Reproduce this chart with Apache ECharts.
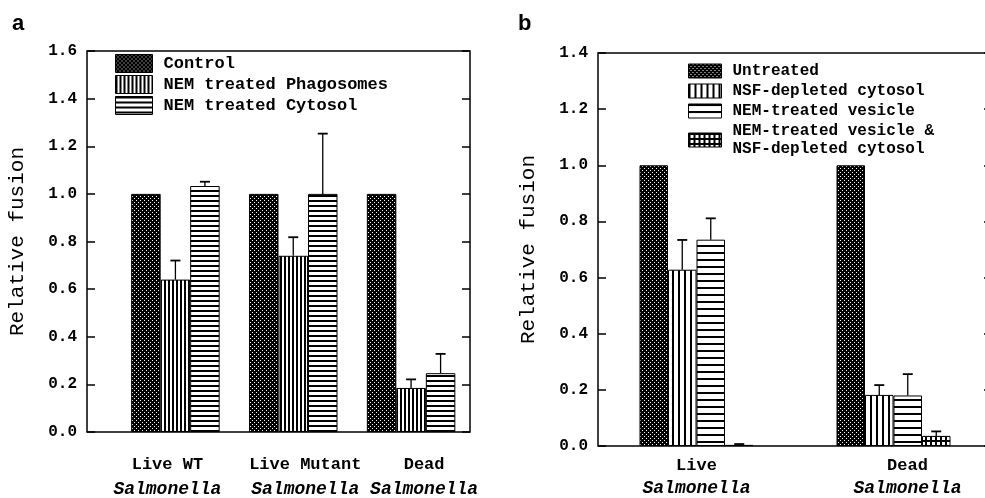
<!DOCTYPE html>
<html>
<head>
<meta charset="utf-8">
<script src="https://cdn.jsdelivr.net/npm/echarts@6/dist/echarts.min.js"></script>
<style>
  html, body { margin: 0; padding: 0; background: #fff; }
  #chart { width: 985px; height: 498px; }
</style>
</head>
<body>
<div id="chart"></div>
<script>
// panel a
const catsA = ["Live WT", "Live Mutant", "Dead"];
const namesA = ["Control", "NEM treated Phagosomes", "NEM treated Cytosol"];
const controlA = [1.0, 1.0, 1.0];
const phagoA = [0.64, 0.74, 0.185];
const phagoErrA = [0.08, 0.078, 0.036];
const cytoA = [1.033, 1.0, 0.247];
const cytoErrA = [0.018, 0.253, 0.081];

// panel b
const catsB = ["Live", "Dead"];
const namesB = ["Untreated", "NSF-depleted cytosol", "NEM-treated vesicle", "NEM-treated vesicle &\nNSF-depleted cytosol"];
const untreatedB = [1.0, 1.0];
const nsfB = [0.628, 0.182];
const nsfErrB = [0.106, 0.035];
const nemB = [0.735, 0.18];
const nemErrB = [0.076, 0.076];
const bothB = [0.004, 0.036];
const bothErrB = [0.003, 0.016];

const species = "Salmonella";
const FONT = "'Liberation Mono', 'DejaVu Sans Mono', monospace";

// horizontal nudge of the category labels (px), the original labels are not centred on the groups
const nudgeA = [-8, 12, 13];
const nudgeB = [0, 14];

function makePattern(kind, period, thick) {
  const c = document.createElement("canvas");
  c.width = period;
  c.height = period;
  const ctx = c.getContext("2d");
  if (kind === "dots") {
    ctx.fillStyle = "#000";
    ctx.fillRect(0, 0, period, period);
    ctx.fillStyle = "#fff";
    ctx.fillRect(0, 0, 1, 1);
    ctx.fillRect(2, 2, 1, 1);
  } else {
    ctx.fillStyle = "#fff";
    ctx.fillRect(0, 0, period, period);
    ctx.fillStyle = "#000";
    if (kind === "vert" || kind === "grid") ctx.fillRect(0, 0, thick, period);
    if (kind === "horiz" || kind === "grid") ctx.fillRect(0, 0, period, thick);
  }
  return { image: c, repeat: "repeat" };
}

function barSeries(name, data, color, xi, yi, width) {
  return {
    name: name,
    type: "bar",
    xAxisIndex: xi,
    yAxisIndex: yi,
    data: data,
    barWidth: width,
    barGap: "0%",
    itemStyle: { color: color, borderColor: "#000", borderWidth: 1 },
    emphasis: { disabled: true },
    z: 2
  };
}

function errData(list) {
  const out = [];
  list.forEach(function (pair) {
    const k = pair[0], vals = pair[1], errs = pair[2];
    vals.forEach(function (v, i) {
      out.push([i, k, v, v + errs[i]]);
    });
  });
  return out;
}

function errSeries(data, xi, yi, barW, n) {
  return {
    type: "custom",
    xAxisIndex: xi,
    yAxisIndex: yi,
    data: data,
    encode: { x: 0, y: 3 },
    z: 5,
    silent: true,
    renderItem: function (params, api) {
      const cat = api.value(0);
      const k = api.value(1);
      const base = api.coord([cat, api.value(2)]);
      const top = api.coord([cat, api.value(3)]);
      const x = base[0] + (k - (n - 1) / 2) * barW;
      const cap = 5;
      return {
        type: "group",
        children: [
          { type: "line", shape: { x1: x, y1: base[1], x2: x, y2: top[1] }, style: { stroke: "#000", lineWidth: 1.3 } },
          { type: "line", shape: { x1: x - cap, y1: top[1], x2: x + cap, y2: top[1] }, style: { stroke: "#000", lineWidth: 1.8 } }
        ]
      };
    }
  };
}

function catLabel(cats, nudge, margin, lh) {
  return {
    margin: margin,
    interval: 0,
    color: "#000",
    formatter: function (v) {
      const d = nudge[cats.indexOf(v)] || 0;
      const pad = d > 0 ? [0, 0, 0, 2 * d] : [0, -2 * d, 0, 0];
      return "{n" + (d ? "p" + cats.indexOf(v) : "") + "|" + v + "}\n{s" + (d ? "p" + cats.indexOf(v) : "") + "|" + species + "}";
    },
    rich: (function () {
      const r = {
        n: { fontFamily: FONT, fontSize: 17, fontWeight: "bold", color: "#000", lineHeight: lh },
        s: { fontFamily: FONT, fontSize: 18, fontWeight: "bold", fontStyle: "italic", color: "#000", lineHeight: lh }
      };
      nudge.forEach(function (d, i) {
        if (!d) return;
        const pad = d > 0 ? [0, 0, 0, 2 * d] : [0, -2 * d, 0, 0];
        r["np" + i] = Object.assign({}, r.n, { padding: pad });
        r["sp" + i] = Object.assign({}, r.s, { padding: pad });
      });
      return r;
    })()
  };
}

function valueAxis(grid, max, pos, labels) {
  const ax = {
    gridIndex: grid,
    type: "value",
    min: 0,
    max: max,
    interval: 0.2,
    position: pos,
    axisLine: { show: false },
    splitLine: { show: false },
    axisTick: { show: true, inside: true, length: 8, lineStyle: { color: "#000", width: 1.5 } },
    axisLabel: {
      show: labels,
      margin: 10,
      color: "#000",
      fontFamily: FONT,
      fontSize: 16,
      fontWeight: "bold",
      formatter: function (v) { return v.toFixed(1); }
    }
  };
  if (labels) {
    ax.name = "Relative fusion";
    ax.nameLocation = "middle";
    ax.nameGap = 59;
    ax.nameTextStyle = { fontFamily: FONT, fontSize: 21, color: "#000" };
  }
  return ax;
}

const chart = echarts.init(document.getElementById("chart"), null, { renderer: "canvas" });

const BW_A = 29.5;
const BW_B = 28.5;

chart.setOption({
  backgroundColor: "#fff",
  animation: false,
  title: [
    { text: "a", left: 12, top: 13, padding: 0, textStyle: { fontFamily: "'Liberation Sans', Arial, sans-serif", fontSize: 22, fontWeight: "bold", color: "#000" } },
    { text: "b", left: 518, top: 13, padding: 0, textStyle: { fontFamily: "'Liberation Sans', Arial, sans-serif", fontSize: 22, fontWeight: "bold", color: "#000" } }
  ],
  legend: [
    {
      data: namesA,
      orient: "vertical",
      left: 115,
      top: 54,
      padding: 0,
      icon: "rect",
      itemWidth: 37,
      itemHeight: 18,
      itemGap: 2,
      selectedMode: false,
      itemStyle: { borderColor: "#000", borderWidth: 1 },
      textStyle: { fontFamily: FONT, fontSize: 17, fontWeight: "bold", color: "#000", padding: [0, 0, 0, 6] }
    },
    {
      data: namesB,
      orient: "vertical",
      left: 688,
      top: 62,
      padding: 0,
      icon: "rect",
      itemWidth: 33,
      itemHeight: 14,
      itemGap: 2,
      selectedMode: false,
      itemStyle: { borderColor: "#000", borderWidth: 1 },
      textStyle: { fontFamily: FONT, fontSize: 16, fontWeight: "bold", color: "#000", padding: [0, 0, 0, 6], lineHeight: 18 }
    }
  ],
  grid: [
    { left: 87, right: 515, top: 51, bottom: 66, show: true, borderColor: "#000", borderWidth: 1.5, outerBoundsMode: "none" },
    { left: 116.5, right: 515, top: 51, bottom: 66, outerBoundsMode: "none" },
    { left: 598, width: 394, top: 53, bottom: 52, show: true, borderColor: "#000", borderWidth: 1.5, outerBoundsMode: "none" }
  ],
  xAxis: [
    { gridIndex: 0, type: "value", show: false, min: 0, max: 1 },
    {
      gridIndex: 1,
      type: "category",
      data: catsA,
      axisLine: { show: false },
      axisTick: { show: false },
      axisLabel: catLabel(catsA, nudgeA, 20, 25)
    },
    {
      gridIndex: 2,
      type: "category",
      data: catsB,
      axisLine: { show: false },
      axisTick: { show: false },
      axisLabel: catLabel(catsB, nudgeB, 8, 23)
    }
  ],
  yAxis: [
    valueAxis(0, 1.6, "left", true),
    valueAxis(0, 1.6, "right", false),
    { gridIndex: 1, type: "value", min: 0, max: 1.6, show: false },
    valueAxis(2, 1.4, "left", true),
    valueAxis(2, 1.4, "right", false)
  ],
  series: [
    barSeries(namesA[0], controlA, makePattern("dots", 4, 0), 1, 2, BW_A),
    barSeries(namesA[1], phagoA, makePattern("vert", 4, 2), 1, 2, BW_A),
    barSeries(namesA[2], cytoA, makePattern("horiz", 5, 2), 1, 2, BW_A),
    errSeries(errData([[1, phagoA, phagoErrA], [2, cytoA, cytoErrA]]), 1, 2, BW_A, 3),
    barSeries(namesB[0], untreatedB, makePattern("dots", 4, 0), 2, 3, BW_B),
    barSeries(namesB[1], nsfB, makePattern("vert", 6, 2), 2, 3, BW_B),
    barSeries(namesB[2], nemB, makePattern("horiz", 7, 2), 2, 3, BW_B),
    barSeries(namesB[3], bothB, makePattern("grid", 5, 2), 2, 3, BW_B),
    errSeries(errData([[1, nsfB, nsfErrB], [2, nemB, nemErrB], [3, bothB, bothErrB]]), 2, 3, BW_B, 4)
  ]
});
</script>
</body>
</html>
